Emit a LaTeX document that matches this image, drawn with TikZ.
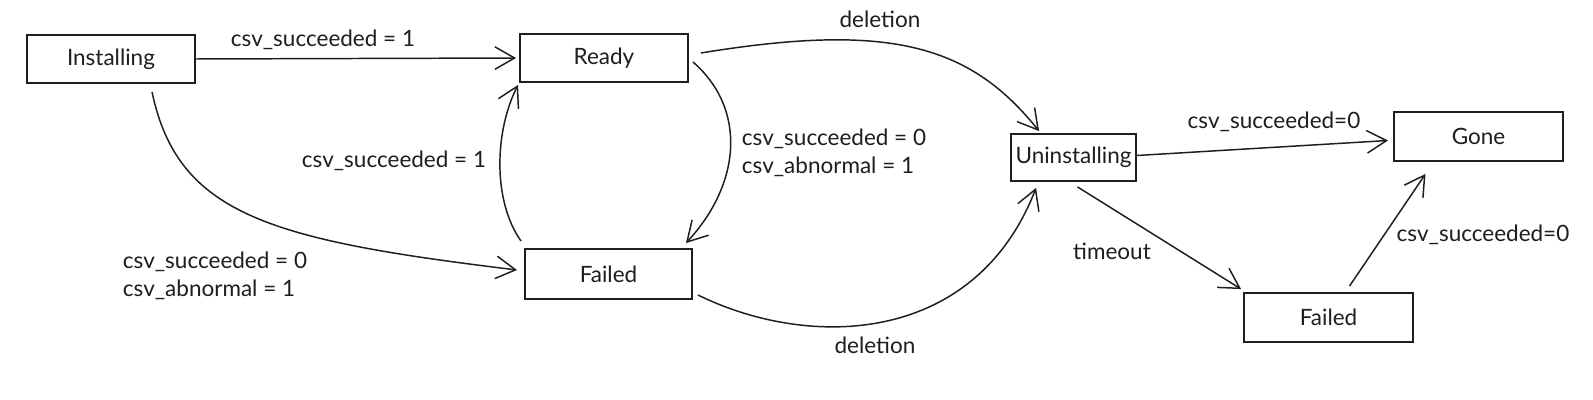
\documentclass[tikz,border=0pt]{standalone}
\usepackage{fontspec}
\setmainfont{Lato}
\usetikzlibrary{arrows.meta,calc}
\definecolor{ink}{HTML}{1E1E1E}
\tikzset{
  state/.style={draw=ink, line width=1.3pt, rectangle, inner sep=0pt, minimum height=1.2cm, text=ink, font=\fontsize{16}{19}\selectfont},
  conn/.style={draw=ink, line width=1.05pt, -{Straight Barb[length=14pt,width=16pt,line width=1.05pt]}},
  lbl/.style={text=ink, font=\fontsize{16}{19.5}\selectfont, inner sep=0pt, align=left}
}
\begin{document}
\begin{tikzpicture}[x=0.025cm,y=-0.025cm]
\useasboundingbox (0,0) rectangle (1593,400);
\fill[white] (0,0) rectangle (1593,400);
% states
\node[state, minimum width=4.2cm] (inst) at (111,59) {Installing};
\node[state, minimum width=4.2cm] (ready) at (604,58) {Ready};
\node[state, minimum width=4.175cm, minimum height=1.25cm] (fail1) at (608.5,274) {Failed};
\node[state, minimum width=3.125cm, minimum height=1.175cm] (unin) at (1073.5,157.5) {Uninstalling};
\node[state, minimum width=4.225cm, minimum height=1.225cm] (gone) at (1478.5,136.5) {Gone};
\node[state, minimum width=4.225cm, minimum height=1.225cm] (fail2) at (1328.5,317.5) {Failed};
% connectors
\draw[conn] (inst.east) -- ($(ready.west)+(-3,0)$);
\draw[conn] ($(inst.south)+(41,8)$) .. controls (178,215) and (270,240) .. ($(fail1.west)+(-7,-4)$);
\draw[conn] ($(fail1.north west)+(-3,-7)$) .. controls (492,200) and (495,130) .. ($(ready.south west)+(-1,2)$);
\draw[conn] ($(ready.south east)+(4,-21)$) .. controls (748,110) and (740,185) .. ($(fail1.north east)+(-7,-5)$);
\draw[conn] ($(ready.east)+(12,-5)$) .. controls (890,22) and (970,45) .. ($(unin.north west)+(29,-2)$);
\draw[conn] ($(fail1.east)+(5,21)$) .. controls (810,350) and (975,345) .. ($(unin.south west)+(26,6)$);
\draw[conn] ($(unin.east)+(0,-2)$) -- ($(gone.west)+(-5,4)$);
\draw[conn] ($(unin.south)+(4,5)$) -- ($(fail2.north west)+(-2,-3)$);
\draw[conn] ($(fail2.north)+(21,-6)$) -- ($(gone.south)+(-53,12)$);
% labels
\node[lbl] (l1) at (323,40) {csv\_succeeded = 1};
\node[lbl] (l2) at (215,276) {csv\_succeeded = 0\\csv\_abnormal = 1};
\node[lbl] (l3) at (394,161) {csv\_succeeded = 1};
\node[lbl] (l4) at (834,153) {csv\_succeeded = 0\\csv\_abnormal = 1};
\node[lbl] (l5) at (880,19) {deletion};
\node[lbl] (l6) at (875,345) {deletion};
\node[lbl] (l7) at (1274,122) {csv\_succeeded=0};
\node[lbl] (l8) at (1112,251) {timeout};
\node[lbl] (l9) at (1483,235) {csv\_succeeded=0};
\end{tikzpicture}
\end{document}
